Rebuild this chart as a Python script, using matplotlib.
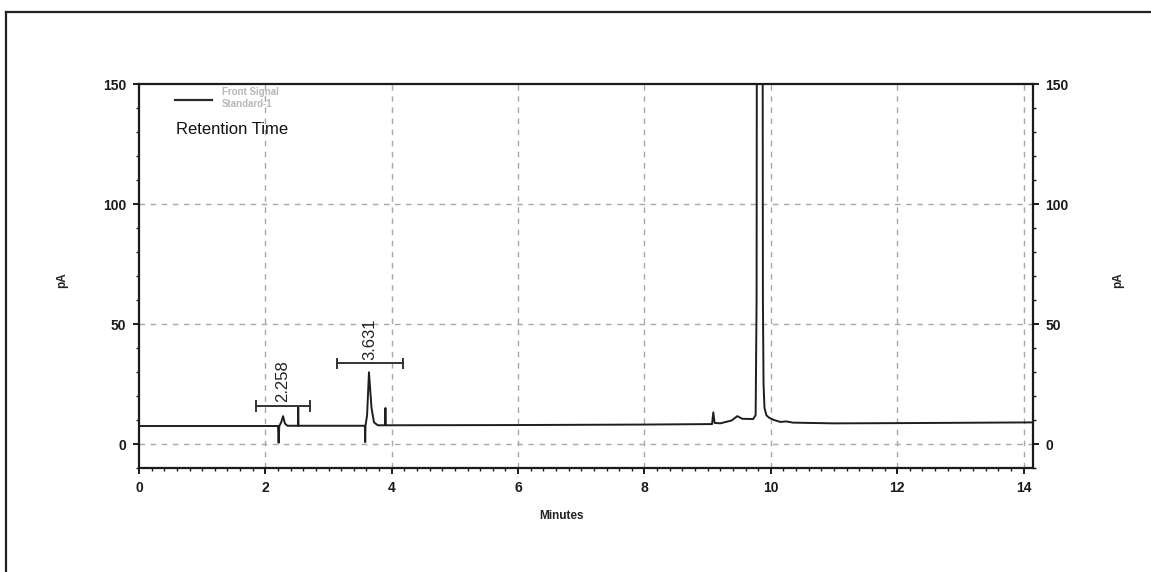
import matplotlib
matplotlib.use('Agg')
import matplotlib.pyplot as plt
from matplotlib.lines import Line2D
from matplotlib.ticker import MultipleLocator

plt.rcParams['font.family'] = ['Liberation Sans', 'DejaVu Sans']

# Detector trace (minutes, pA)
time_min = [0.0, 2.20, 2.21, 2.22, 2.25, 2.28, 2.31, 2.35, 2.515, 2.52, 2.525,
            3.575, 3.58, 3.585, 3.61, 3.64, 3.68, 3.72, 3.78, 3.895, 3.90, 3.905,
            6.0, 8.0, 9.07, 9.09, 9.11, 9.20, 9.38, 9.47, 9.55, 9.72, 9.76,
            9.775, 9.78, 9.87, 9.875, 9.885, 9.90, 9.93, 9.97, 10.05, 10.15,
            10.25, 10.35, 11.0, 12.0, 14.15]
signal_pa = [7.5, 7.5, 0.5, 7.5, 9.0, 11.6, 8.5, 7.6, 7.6, 15.3, 7.6,
             7.6, 0.8, 7.6, 12.0, 29.9, 15.0, 9.0, 7.8, 7.8, 15.0, 7.8,
             7.9, 8.1, 8.3, 13.2, 8.8, 8.6, 9.8, 11.6, 10.5, 10.4, 12.0,
             60.0, 200.0, 200.0, 60.0, 25.0, 15.0, 12.0, 11.0, 10.0, 9.2,
             9.4, 8.9, 8.6, 8.7, 9.0]

# Integration brackets: retention time label, bracket start/end, bracket height
peak_labels = ['2.258', '3.631']
peak_rt = [2.258, 3.631]
bracket_start = [1.85, 3.14]
bracket_end = [2.71, 4.18]
bracket_level = [15.8, 33.6]

x_grid = [2, 4, 6, 8, 10, 12, 14]
y_grid = [0, 50, 100]

fig = plt.figure(figsize=(11.51, 5.72), dpi=100)
fig.patch.set_facecolor('white')
ax = fig.add_axes([139 / 1151, 1 - 468 / 572, (1033 - 139) / 1151, (468 - 84) / 572])

ax.set_xlim(0, 14.15)
ax.set_ylim(-10, 150)

for xv in x_grid:
    ax.axvline(xv, color='#a8a8a8', lw=1.0, ls=(0, (4, 4)), zorder=1)
for yv in y_grid:
    ax.axhline(yv, color='#a8a8a8', lw=1.0, ls=(0, (4, 4)), zorder=1)

ax.plot(time_min, signal_pa, color='#1e1e1e', lw=1.4, zorder=3)

for lab, rt, x0, x1, yb in zip(peak_labels, peak_rt, bracket_start, bracket_end, bracket_level):
    ax.plot([x0, x1], [yb, yb], color='#333333', lw=1.4, zorder=4)
    ax.plot([x0, x0], [yb - 2.0, yb + 2.0], color='#333333', lw=1.4, zorder=4)
    ax.plot([x1, x1], [yb - 2.0, yb + 2.0], color='#333333', lw=1.4, zorder=4)
    ax.text(rt + 0.02, yb + 1.5, lab, rotation=90, ha='center', va='bottom',
            fontsize=12, color='#222222')

# axis styling
for side in ['left', 'right', 'top', 'bottom']:
    ax.spines[side].set_linewidth(1.6)
    ax.spines[side].set_color('#1a1a1a')

ax.xaxis.set_major_locator(MultipleLocator(2))
ax.xaxis.set_minor_locator(MultipleLocator(0.2))
ax.yaxis.set_major_locator(MultipleLocator(50))
ax.yaxis.set_minor_locator(MultipleLocator(10))
ax.tick_params(which='major', length=4, width=1.4, labelsize=10, pad=5, colors='#1a1a1a')
ax.tick_params(which='minor', length=2.5, width=1.0, colors='#1a1a1a')
for lbl in ax.get_xticklabels() + ax.get_yticklabels():
    lbl.set_fontweight('bold')

ax2 = ax.twinx()
ax2.set_ylim(ax.get_ylim())
ax2.yaxis.set_major_locator(MultipleLocator(50))
ax2.yaxis.set_minor_locator(MultipleLocator(10))
ax2.tick_params(which='major', length=4, width=1.4, labelsize=10, pad=5, colors='#1a1a1a')
ax2.tick_params(which='minor', length=2.5, width=1.0, colors='#1a1a1a')
for lbl in ax2.get_yticklabels():
    lbl.set_fontweight('bold')
for spine in ax2.spines.values():
    spine.set_visible(False)

# axis titles
fig.text(562 / 1151, 1 - 516 / 572, 'Minutes', ha='center', va='center',
         fontsize=8.5, fontweight='bold', color='#222222')
fig.text(62 / 1151, 1 - 280 / 572, 'pA', ha='center', va='center', rotation=90,
         fontsize=8.5, fontweight='bold', color='#222222')
fig.text(1118 / 1151, 1 - 280 / 572, 'pA', ha='center', va='center', rotation=90,
         fontsize=8.5, fontweight='bold', color='#222222')

# legend block in the upper left
fig.add_artist(Line2D([175 / 1151, 212 / 1151], [1 - 100 / 572, 1 - 100 / 572],
                      color='#2a2a2a', lw=1.6))
fig.text(222 / 1151, 1 - 92 / 572, 'Front Signal', ha='left', va='center',
         fontsize=7, color='#b8b8b8', fontweight='bold')
fig.text(222 / 1151, 1 - 104 / 572, 'Standard-1', ha='left', va='center',
         fontsize=7, color='#b8b8b8', fontweight='bold')
fig.text(176 / 1151, 1 - 130 / 572, 'Retention Time', ha='left', va='center',
         fontsize=12, color='#111111')

# page frame (top and left edges)
fig.add_artist(Line2D([6 / 1151, 1.0], [1 - 12 / 572, 1 - 12 / 572], color='#222222', lw=1.6))
fig.add_artist(Line2D([6 / 1151, 6 / 1151], [0.0, 1 - 12 / 572], color='#222222', lw=1.6))

fig.savefig('out.png', dpi=100, facecolor='white')
